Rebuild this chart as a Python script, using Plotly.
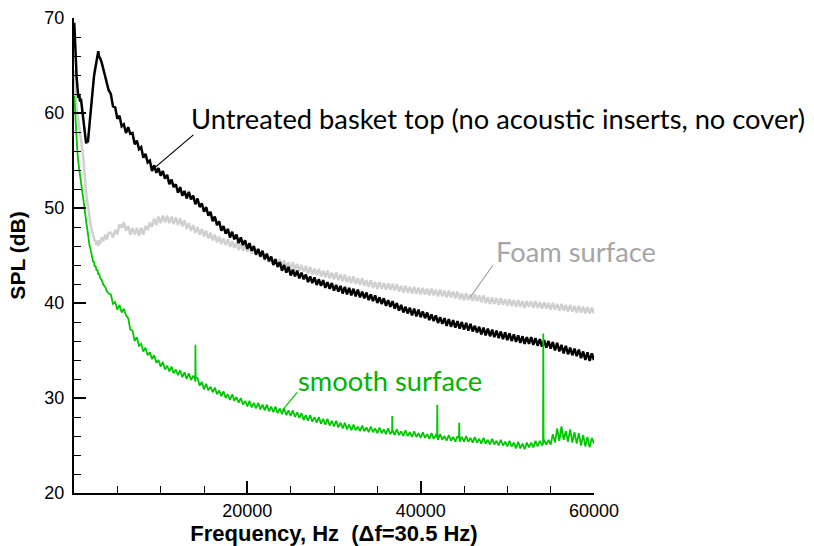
import plotly.graph_objects as go

# ---------------- data ----------------
freq_low = [30, 100, 200, 300, 400, 500, 600, 700, 800, 900,
            1000, 1100, 1200, 1300, 1400, 1500, 1600, 1700, 1800, 1900,
            2000, 2100, 2200, 2300, 2400, 2500, 2600, 2700, 2800, 2900,
            3000, 3200, 3400, 3600, 3800, 4000]
freq_main = list(range(4250, 60001, 250))
freq_hz = freq_low + freq_main

spl_untreated = [
    69.5, 68.5, 66.0, 63.8, 62.2, 61.6, 62.0, 61.2, 61.5, 60.6,
    60.2, 59.0, 58.2, 57.4, 56.8, 57.2, 56.9, 57.9, 59.0, 60.3,
    61.3, 62.3, 62.9, 63.8, 64.4, 64.9, 65.2, 65.6, 66.5, 65.9,
    65.8, 65.3, 64.6, 63.8, 63.4, 62.4,
    62.0, 60.7, 60.6, 59.4,  59.7, 58.6, 58.8, 57.9,  58.5, 57.8, 57.9, 56.7,
    57.1, 56.2, 56.4, 55.3,  55.7, 54.8, 55.0, 53.9,  54.5, 53.7, 54.2, 53.4,
    53.9, 53.1, 53.5, 52.5,  53.0, 52.2, 52.5, 51.6,  52.2, 51.3, 51.8, 51.0,
    51.7, 50.9, 51.3, 50.4,  51.0, 50.1, 50.5, 49.6,  50.1, 49.2, 49.6, 48.6,
    49.1, 48.2, 48.6, 47.6,  48.1, 47.3, 47.8, 46.9,  47.5, 46.7, 47.2, 46.3,
    46.9, 46.1, 46.6, 45.7,  46.3, 45.5, 46.0, 45.1,  45.7, 44.9, 45.5, 44.6,
    45.2, 44.4, 44.9, 44.0,  44.6, 43.8, 44.3, 43.4,  44.0, 43.2, 43.8, 42.9,
    43.5, 42.8, 43.4, 42.6,  43.2, 42.5, 43.0, 42.2,  42.8, 42.1, 42.7, 41.9,
    42.5, 41.8, 42.4, 41.6,  42.2, 41.5, 42.1, 41.3,  41.9, 41.2, 41.8, 41.0,
    41.7, 40.9, 41.6, 40.8,  41.5, 40.7, 41.4, 40.6,  41.2, 40.5, 41.1, 40.3,
    40.9, 40.2, 40.8, 40.0,  40.6, 39.9, 40.5, 39.7,  40.3, 39.6, 40.2, 39.4,
    40.0, 39.2, 39.8, 39.0,  39.6, 38.9, 39.5, 38.7,  39.4, 38.6, 39.3, 38.5,
    39.1, 38.4, 39.0, 38.2,  38.8, 38.1, 38.7, 37.9,  38.5, 37.8, 38.4, 37.6,
    38.3, 37.5, 38.2, 37.4,  38.1, 37.3, 38.0, 37.2,  37.9, 37.1, 37.8, 37.0,
    37.6, 36.9, 37.5, 36.7,  37.4, 36.6, 37.3, 36.5,  37.2, 36.4, 37.1, 36.3,
    37.0, 36.2, 36.9, 36.1,  36.8, 36.0, 36.7, 35.9,  36.6, 35.8, 36.5, 35.7,
    36.4, 35.7, 36.4, 35.6,  36.3, 35.5, 36.2, 35.4,  36.1, 35.3, 36.0, 35.2,
    35.9, 35.0, 35.8, 34.9,  35.6, 34.7, 35.5, 34.6,  35.3, 34.5, 35.2, 34.4,
    35.1, 34.2, 34.9, 34.0,  34.8, 33.9, 34.7, 34.0]

spl_foam = [
    64.5, 62.5, 61.5, 60.6, 60.0, 59.4, 58.6, 58.0, 57.2, 56.6,
    55.9, 55.0, 53.6, 52.5, 51.6, 50.9, 50.2, 49.5, 48.9, 48.4,
    47.8, 47.5, 47.0, 46.9, 46.5, 46.6, 46.1, 46.5, 46.0, 46.6,
    46.2, 46.9, 46.5, 47.2, 46.7, 47.4,
    47.4, 46.9, 47.7, 47.2,  48.3, 47.9, 48.5, 47.6,  48.1, 47.2, 47.9, 47.2,
    47.9, 47.1, 47.9, 47.2,  48.1, 47.7, 48.5, 48.0,  48.9, 48.2, 49.1, 48.4,
    49.2, 48.5, 49.2, 48.4,  49.1, 48.3, 49.0, 48.2,  48.9, 48.1, 48.7, 47.8,
    48.4, 47.6, 48.2, 47.4,  48.0, 47.2, 47.8, 47.0,  47.6, 46.8, 47.4, 46.6,
    47.2, 46.4, 47.0, 46.2,  46.8, 46.1, 46.7, 45.9,  46.5, 45.8, 46.4, 45.6,
    46.3, 45.5, 46.2, 45.4,  46.0, 45.2, 45.8, 45.0,  45.6, 44.8, 45.4, 44.5,
    45.1, 44.3, 44.9, 44.1,  44.7, 44.0, 44.6, 43.8,  44.5, 43.7, 44.3, 43.6,
    44.3, 43.5, 44.1, 43.4,  44.0, 43.3, 43.9, 43.1,  43.8, 43.0, 43.6, 42.9,
    43.6, 42.8, 43.4, 42.7,  43.4, 42.6, 43.2, 42.5,  43.2, 42.4, 43.0, 42.3,
    43.0, 42.2, 42.8, 42.1,  42.8, 42.0, 42.6, 41.9,  42.6, 41.8, 42.4, 41.7,
    42.4, 41.6, 42.2, 41.5,  42.2, 41.5, 42.1, 41.4,  42.1, 41.4, 42.0, 41.3,
    42.0, 41.2, 41.8, 41.1,  41.8, 41.1, 41.7, 41.0,  41.7, 41.0, 41.6, 40.9,
    41.6, 40.9, 41.5, 40.8,  41.5, 40.8, 41.4, 40.7,  41.4, 40.7, 41.3, 40.6,
    41.3, 40.6, 41.2, 40.5,  41.2, 40.4, 41.0, 40.3,  41.0, 40.3, 40.9, 40.2,
    40.9, 40.2, 40.8, 40.1,  40.8, 40.0, 40.6, 39.9,  40.6, 39.9, 40.5, 39.8,
    40.5, 39.8, 40.4, 39.7,  40.4, 39.7, 40.3, 39.6,  40.3, 39.6, 40.2, 39.5,
    40.2, 39.6, 40.2, 39.5,  40.2, 39.5, 40.1, 39.4,  40.1, 39.4, 40.0, 39.3,
    40.0, 39.3, 39.9, 39.2,  39.9, 39.2, 39.8, 39.1,  39.8, 39.1, 39.7, 39.0,
    39.7, 39.0, 39.6, 38.9,  39.6, 38.9, 39.5, 38.9]

spl_smooth = [
    61.8, 60.5, 58.5, 57.0, 55.8, 54.8, 54.0, 53.2, 52.7, 52.2,
    51.4, 50.8, 49.9, 49.5, 48.6, 48.0, 47.2, 46.8, 46.0, 45.7,
    45.0, 44.8, 44.3, 44.4, 43.8, 43.9, 43.4, 43.5, 43.0, 43.1,
    42.7, 42.4, 41.9, 41.7, 41.2, 41.0,
    40.9, 39.9, 40.1, 39.3,  39.8, 39.0, 39.4, 38.7,  38.4, 37.2, 37.1, 36.0,
    36.4, 35.5, 35.7, 34.9,  35.3, 34.5, 34.8, 34.1,  34.5, 33.7, 34.0, 33.3,
    33.8, 33.0, 33.4, 32.8,  33.3, 32.6, 33.0, 32.4,  32.9, 32.2, 32.7, 32.0,
    32.6, 31.9, 32.3, 31.7,  32.1, 31.3, 31.7, 30.9,  31.5, 30.8, 31.2, 30.6,
    31.1, 30.4, 30.8, 30.2,  30.7, 30.0, 30.4, 29.8,  30.4, 29.7, 30.1, 29.5,
    30.0, 29.3, 29.7, 29.1,  29.7, 29.0, 29.5, 28.9,  29.5, 28.8, 29.3, 28.7,
    29.3, 28.6, 29.1, 28.5,  29.1, 28.4, 28.9, 28.3,  28.9, 28.2, 28.7, 28.1,
    28.7, 28.0, 28.5, 27.9,  28.4, 27.7, 28.2, 27.6,  28.2, 27.5, 28.0, 27.4,
    28.0, 27.3, 27.8, 27.2,  27.8, 27.1, 27.6, 27.0,  27.6, 26.9, 27.4, 26.8,
    27.4, 26.7, 27.2, 26.6,  27.2, 26.6, 27.0, 26.5,  27.1, 26.5, 26.9, 26.4,
    27.0, 26.4, 26.8, 26.3,  26.9, 26.3, 26.7, 26.2,  26.8, 26.2, 26.6, 26.1,
    26.7, 26.1, 26.5, 26.0,  26.6, 26.0, 26.4, 25.9,  26.5, 25.9, 26.3, 25.8,
    26.4, 25.8, 26.2, 25.7,  26.3, 25.7, 26.1, 25.6,  26.2, 25.6, 26.0, 25.5,
    26.1, 25.5, 25.9, 25.4,  26.0, 25.4, 25.9, 25.4,  26.0, 25.4, 25.8, 25.3,
    25.9, 25.3, 25.7, 25.2,  25.8, 25.2, 25.6, 25.1,  25.7, 25.1, 25.5, 25.0,
    25.6, 25.0, 25.4, 24.9,  25.5, 24.9, 25.3, 24.7,  25.4, 24.7, 25.2, 24.6,
    25.3, 24.8, 25.3, 24.8,  25.5, 24.9, 25.5, 25.0,  25.6, 25.1, 25.6, 25.1,
    26.2, 25.3, 26.8, 25.5,  27.0, 25.6, 26.5, 25.4,  26.7, 25.3, 26.4, 25.2,
    26.3, 25.0, 26.1, 24.9,  25.9, 24.8, 25.8, 25.2]

# narrow tonal peaks in the smooth-surface spectrum
smooth_tone_hz = [13980, 14010, 14040, 36700, 36720, 36740, 41890, 41920, 41950,
                  44420, 44450, 44480, 54120, 54150, 54180]
smooth_tone_db = [32.0, 35.6, 32.1, 26.5, 28.1, 26.4, 25.9, 29.3, 25.8,
                  25.8, 27.4, 25.7, 25.2, 36.8, 25.3]

x_ticks = [0, 20000, 40000, 60000]
x_tick_text = ['', '20000', '40000', '60000']
y_ticks = [20, 30, 40, 50, 60, 70]

assert len(spl_untreated) == len(freq_hz), len(spl_untreated)
assert len(spl_foam) == len(freq_hz), len(spl_foam)
assert len(spl_smooth) == len(freq_hz), len(spl_smooth)

# ---------------- figure ----------------
smooth_pairs = sorted(zip(freq_hz + smooth_tone_hz, spl_smooth + smooth_tone_db))
smooth_f = [p[0] for p in smooth_pairs]
smooth_v = [p[1] for p in smooth_pairs]

fig = go.Figure()
fig.add_trace(go.Scatter(x=freq_hz, y=spl_foam, mode='lines',
                         line=dict(color='#d0d0d0', width=2.5), name='Foam surface'))
fig.add_trace(go.Scatter(x=freq_hz, y=spl_untreated, mode='lines',
                         line=dict(color='#000000', width=2.5), name='Untreated'))
fig.add_trace(go.Scatter(x=smooth_f, y=smooth_v, mode='lines',
                         line=dict(color='#00c800', width=1.8), name='smooth surface'))

AX = 'Liberation Sans, Arial, sans-serif'
TXT = 'Lato, Carlito, Calibri, sans-serif'

fig.update_layout(
    width=814, height=546, autosize=False,
    margin=dict(l=74, r=220, t=18, b=53, pad=0),
    paper_bgcolor='white', plot_bgcolor='white', showlegend=False,
    font=dict(family=AX, color='black', size=18),
)
fig.update_xaxes(
    range=[0, 60000], tickmode='array', tickvals=x_ticks, ticktext=x_tick_text,
    automargin=False,
    ticks='inside', ticklen=12, tickwidth=2, tickcolor='black',
    showline=True, linewidth=2, linecolor='black', showgrid=False, zeroline=False,
    minor=dict(ticks='inside', ticklen=7, tickwidth=1, tickcolor='black',
               tickmode='linear', tick0=0, dtick=5000, showgrid=False),
    tickfont=dict(family=AX, size=18, color='black'),
    ticklabelstandoff=0,
    title=dict(text='<b>Frequency, Hz\u00a0 (\u0394f=30.5 Hz)</b>',
               font=dict(family=AX, size=22, color='black'), standoff=3),
)
fig.update_yaxes(
    range=[20, 70], tickmode='array', tickvals=y_ticks,
    automargin=False,
    ticks='inside', ticklen=12, tickwidth=2, tickcolor='black',
    showline=True, linewidth=2, linecolor='black', showgrid=False, zeroline=False,
    minor=dict(ticks='inside', ticklen=7, tickwidth=1, tickcolor='black',
               tickmode='linear', tick0=20, dtick=2, showgrid=False),
    tickfont=dict(family=AX, size=18, color='black'),
    ticklabelstandoff=4,
    title=dict(text='<b>SPL (dB)</b>', font=dict(family=AX, size=21, color='black'),
               standoff=13),
)

# leader lines
fig.add_shape(type='line', xref='x', yref='y', x0=9395, y0=54.3, x1=13775, y1=57.7,
              line=dict(color='black', width=1.2))
fig.add_shape(type='line', xref='x', yref='y', x0=45705, y0=40.6, x1=48357, y1=44.0,
              line=dict(color='#a6a6a6', width=1.2))
fig.add_shape(type='line', xref='x', yref='y', x0=24034, y0=28.7, x1=25763, y1=30.6,
              line=dict(color='#00c000', width=1.2))

fig.add_annotation(x=13314, y=59.45, xref='x', yref='y', xanchor='left', yanchor='middle',
                   text='Untreated basket top (no acoustic inserts, no cover)', showarrow=False,
                   font=dict(family=TXT, size=27.3, color='black'))
fig.add_annotation(x=48471, y=45.45, xref='x', yref='y', xanchor='left', yanchor='middle',
                   text='Foam surface', showarrow=False,
                   font=dict(family=TXT, size=27.3, color='#a6a6a6'))
fig.add_annotation(x=25648, y=31.85, xref='x', yref='y', xanchor='left', yanchor='middle',
                   text='smooth surface', showarrow=False,
                   font=dict(family=TXT, size=27.3, color='#00b400'))

fig.write_html('out.html', config={'displayModeBar': False},
               post_script="document.body.style.margin='0';document.body.style.overflow='hidden';")
